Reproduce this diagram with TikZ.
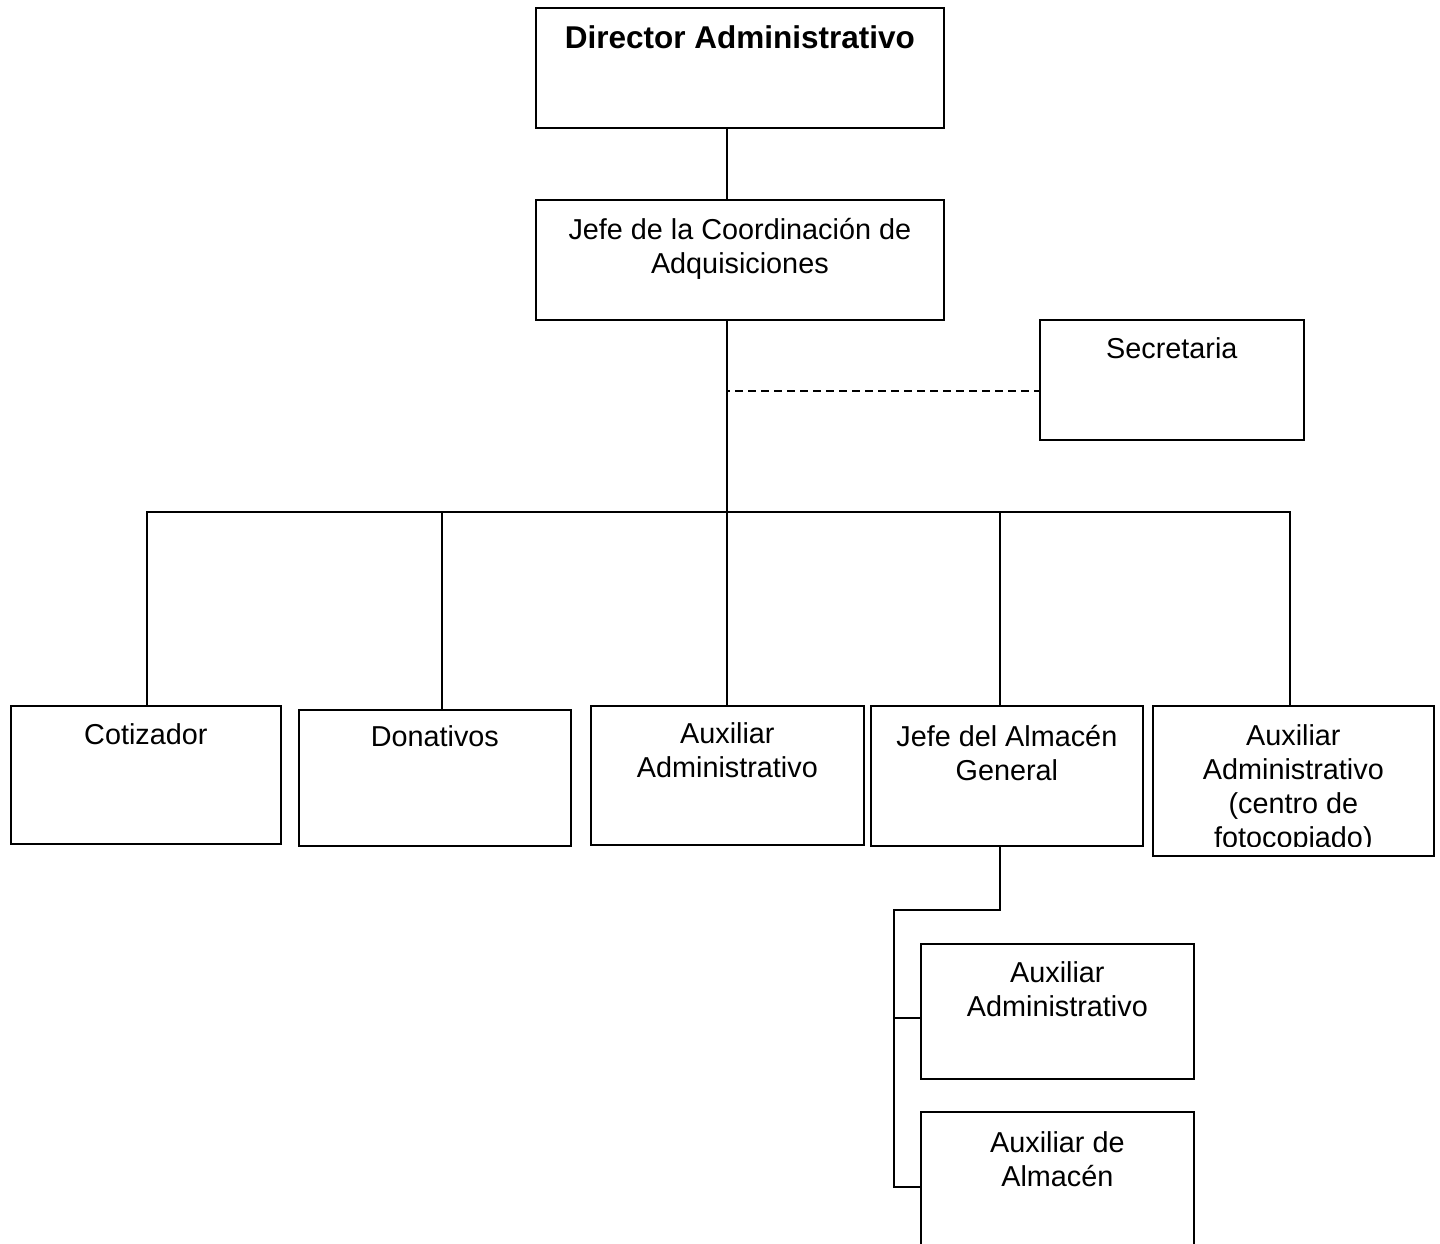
\documentclass[tikz,border=0pt]{standalone}
\usepackage{fontspec}
\setmainfont{Liberation Sans}
\newcommand\tstrut{\rule{0pt}{30pt}}
\begin{document}
\begin{tikzpicture}[x=1pt,y=-1pt,
  box/.style={draw, line width=1.7pt, inner sep=0pt, anchor=north west},
  lbl/.style={anchor=north, inner sep=0pt, align=center, font=\fontsize{28.8}{34}\selectfont},
  conn/.style={line width=1.7pt},
  dconn/.style={line width=1.6pt, dash pattern=on 8pt off 5pt, dash phase=5pt}]
\useasboundingbox (0,0) rectangle (1440,1244);
\clip (0,0) rectangle (1440,1244);
% boxes
\node[box, minimum width=408pt, minimum height=120pt] (dir) at (535,7) {};
\node[box, minimum width=408pt, minimum height=120pt] (jefe) at (535,199) {};
\node[box, minimum width=264pt, minimum height=120pt] (sec) at (1039,319) {};
\node[box, minimum width=270pt, minimum height=138pt] (cot) at (10,705) {};
\node[box, minimum width=272pt, minimum height=136pt] (don) at (298,709) {};
\node[box, minimum width=273pt, minimum height=139pt] (aux) at (590,705) {};
\node[box, minimum width=272pt, minimum height=140pt] (alm) at (870,705) {};
\node[box, minimum width=281pt, minimum height=150pt] (foto) at (1152,705) {};
\node[box, minimum width=273pt, minimum height=135pt] (aux2) at (920,943) {};
\node[box, minimum width=273pt, minimum height=160pt] (aa) at (920,1111) {};
% labels
\node[lbl, font=\fontsize{31.5}{36}\selectfont\bfseries] (dirt) at ([yshift=-11pt]dir.north) {\tstrut Director Administrativo};
\node[lbl] (jefet) at ([yshift=-10pt]jefe.north) {\tstrut Jefe de la Coordinación de\\Adquisiciones};
\node[lbl] (sect) at ([yshift=-9pt]sec.north) {\tstrut Secretaria};
\node[lbl] (cott) at ([yshift=-9pt]cot.north) {\tstrut Cotizador};
\node[lbl] (dont) at ([yshift=-7pt]don.north) {\tstrut Donativos};
\node[lbl] (auxt) at ([yshift=-8pt]aux.north) {\tstrut Auxiliar\\Administrativo};
\node[lbl] (almt) at ([yshift=-11pt]alm.north) {\tstrut Jefe del Almacén\\General};
\begin{scope}
\clip (foto.north west) rectangle ([yshift=10pt]foto.south east);
\node[lbl] (fotot) at ([yshift=-10pt]foto.north) {\tstrut Auxiliar\\Administrativo\\(centro de\\fotocopiado)};
\end{scope}
\node[lbl] (aux2t) at ([yshift=-9pt]aux2.north) {\tstrut Auxiliar\\Administrativo};
\node[lbl] (aat) at ([yshift=-11pt]aa.north) {\tstrut Auxiliar de\\Almacén};
% coordinates
\coordinate (bus) at (727,512);
\coordinate (d1) at (147,512);
\coordinate (d2) at (442,512);
\coordinate (d4) at (1000,512);
\coordinate (d5) at (1290,512);
\coordinate (dj) at (727,391);
\coordinate (a1) at (1000,910);
\coordinate (a2) at (894,910);
\coordinate (b1) at (894,1018);
\coordinate (b2) at (894,1187);
% connectors
\draw[conn] (dir.south -| bus) -- (jefe.north -| bus);
\draw[conn] (jefe.south -| bus) -- (bus);
\draw[dconn] (dj) -- (dj -| sec.west);
\draw[conn] (d1 |- cot.north) -- (d1) -- (d5) -- (d5 |- foto.north);
\draw[conn] (d2) -- (d2 |- don.north);
\draw[conn] (bus) -- (bus |- aux.north);
\draw[conn] (d4) -- (d4 |- alm.north);
\draw[conn] (alm.south -| a1) -- (a1) -- (a2) -- (b2) -- (b2 -| aa.west);
\draw[conn] (b1) -- (b1 -| aux2.west);
\end{tikzpicture}
\end{document}
